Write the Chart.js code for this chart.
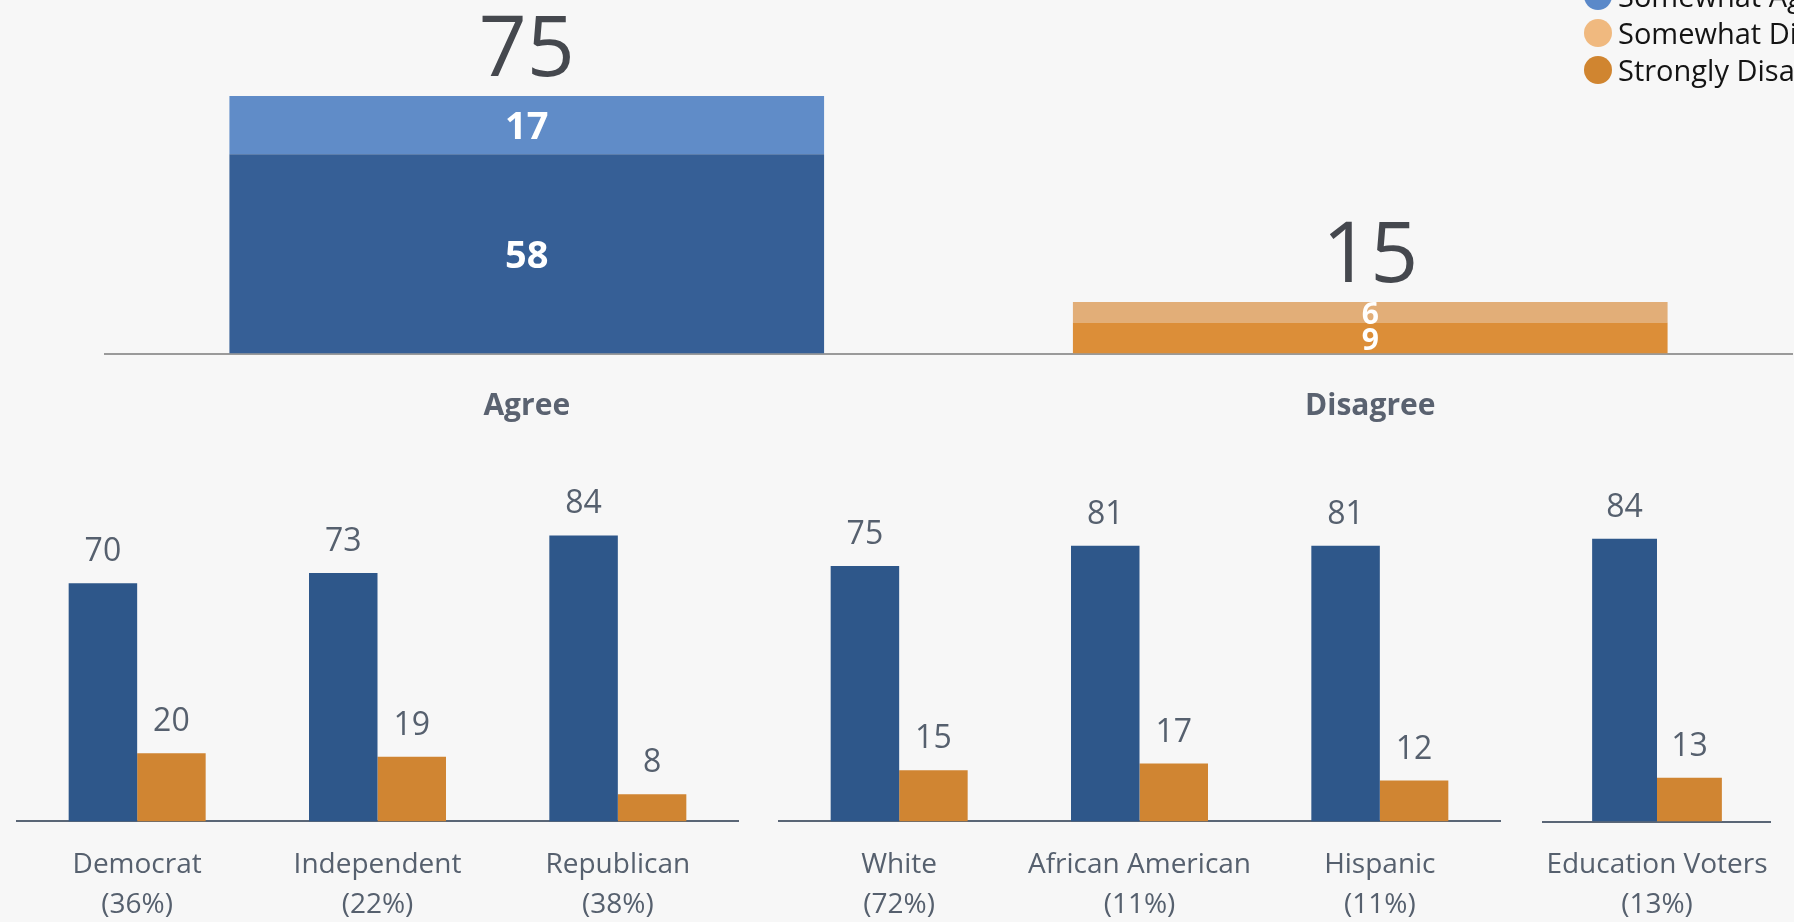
<!DOCTYPE html>
<html>
<head>
<meta charset="utf-8">
<script src="https://cdn.jsdelivr.net/npm/chart.js"></script>
<style>
  html, body { margin:0; padding:0; width:1794px; height:922px; overflow:hidden; background:#f7f7f7; font-family:'Open Sans', sans-serif; }
  .wrap { position:absolute; }
  #legend { position:absolute; left:1584px; top:-60px; white-space:nowrap; }
  .lg-row { height:37px; display:flex; align-items:center; }
  .lg-dot { width:28px; height:28px; border-radius:50%; margin-right:6px; flex:none; }
  .lg-text { font-size:29px; color:#141414; line-height:37px; }
</style>
</head>
<body>
<div class="wrap" style="left:0;top:0;width:1794px;height:481px;"><canvas id="topChart"></canvas></div>
<div class="wrap" style="left:0;top:440px;width:760px;height:513px;"><canvas id="partyChart"></canvas></div>
<div class="wrap" style="left:760px;top:440px;width:760px;height:513px;"><canvas id="raceChart"></canvas></div>
<div class="wrap" style="left:1520px;top:440px;width:274px;height:513px;"><canvas id="eduChart"></canvas></div>
<div id="legend"></div>
<script>
// ---------- data ----------
const topCategories = ['Agree', 'Disagree'];
const stronglyAgree = [58, null];
const somewhatAgree = [17, null];
const stronglyDisagree = [null, 9];
const somewhatDisagree = [null, 6];
const legendLabels = ['Strongly Agree', 'Somewhat Agree', 'Somewhat Disagree', 'Strongly Disagree'];

const partyLabels = [['Democrat', '(36%)'], ['Independent', '(22%)'], ['Republican', '(38%)']];
const partyAgree = [70, 73, 84];
const partyDisagree = [20, 19, 8];

const raceLabels = [['White', '(72%)'], ['African American', '(11%)'], ['Hispanic', '(11%)']];
const raceAgree = [75, 81, 81];
const raceDisagree = [15, 17, 12];

const eduLabels = [['Education Voters', '(13%)']];
const eduAgree = [84];
const eduDisagree = [13];

// ---------- styles ----------
const FONT = "'Open Sans', sans-serif";
Chart.defaults.font.family = FONT;
const C = {
  sa: '#365f96', swa: '#608cc8', swd: '#e2ae78', sd: '#dc8e38',
  agree: '#2e578a', disagree: '#d08532',
  text: '#56606e', total: '#45484e'
};
const legendColors = ['#365f96', '#5b89c9', '#f0b97f', '#d08530'];

// ---------- plugins ----------
const segmentLabels = {
  id: 'segmentLabels',
  afterDatasetsDraw(chart) {
    const ctx = chart.ctx;
    ctx.save();
    ctx.fillStyle = '#ffffff';
    ctx.textAlign = 'center';
    ctx.textBaseline = 'middle';
    chart.data.datasets.forEach((ds, i) => {
      const meta = chart.getDatasetMeta(i);
      meta.data.forEach((el, j) => {
        const v = ds.data[j];
        if (v == null) return;
        const size = j === 0 ? 38 : 30;
        ctx.font = 'bold ' + size + 'px ' + FONT;
        ctx.fillText(String(v), el.x, (el.y + el.base) / 2 + 3);
      });
    });
    ctx.restore();
  }
};
const totalLabels = {
  id: 'totalLabels',
  afterDatasetsDraw(chart) {
    const ctx = chart.ctx;
    const y = chart.scales.y;
    const x = chart.scales.x;
    ctx.save();
    ctx.fillStyle = C.total;
    ctx.textAlign = 'center';
    ctx.textBaseline = 'alphabetic';
    ctx.font = '84px ' + FONT;
    chart.data.labels.forEach((lab, j) => {
      let total = 0;
      chart.data.datasets.forEach(ds => { if (ds.data[j] != null) total += ds.data[j]; });
      ctx.fillText(String(total), x.getPixelForValue(j), y.getPixelForValue(total) - 20);
    });
    ctx.restore();
  }
};
const valueLabels = {
  id: 'valueLabels',
  afterDatasetsDraw(chart) {
    const ctx = chart.ctx;
    ctx.save();
    ctx.fillStyle = C.text;
    ctx.textAlign = 'center';
    ctx.textBaseline = 'alphabetic';
    ctx.font = '32px ' + FONT;
    chart.data.datasets.forEach((ds, i) => {
      chart.getDatasetMeta(i).data.forEach((el, j) => {
        ctx.fillText(String(ds.data[j]), el.x, el.y - 22);
      });
    });
    ctx.restore();
  }
};

// ---------- top chart ----------
new Chart(document.getElementById('topChart'), {
  type: 'bar',
  data: {
    labels: topCategories,
    datasets: [
      { label: legendLabels[0], data: stronglyAgree, backgroundColor: C.sa },
      { label: legendLabels[1], data: somewhatAgree, backgroundColor: C.swa },
      { label: legendLabels[3], data: stronglyDisagree, backgroundColor: C.sd },
      { label: legendLabels[2], data: somewhatDisagree, backgroundColor: C.swd }
    ]
  },
  options: {
    animation: false, responsive: true, maintainAspectRatio: false, devicePixelRatio: 1,
    layout: { padding: { top: 10, left: 105, right: 2, bottom: 21.5 } },
    datasets: { bar: { categoryPercentage: 0.705, barPercentage: 1, borderWidth: 0 } },
    plugins: { legend: { display: false }, tooltip: { enabled: false } },
    scales: {
      x: { stacked: true, grid: { display: false, drawTicks: false },
           border: { color: '#9a9a9a', width: 2 },
           ticks: { font: { size: 30, weight: 'bold', lineHeight: 1.2 }, color: '#5a6270', padding: 35 } },
      y: { stacked: true, display: false, min: 0, max: 100 }
    }
  },
  plugins: [segmentLabels, totalLabels]
});

// ---------- bottom charts ----------
function groupChart(id, labels, agree, disagree, padding) {
  return new Chart(document.getElementById(id), {
    type: 'bar',
    data: {
      labels: labels,
      datasets: [
        { label: 'Agree', data: agree, backgroundColor: C.agree },
        { label: 'Disagree', data: disagree, backgroundColor: C.disagree }
      ]
    },
    options: {
      animation: false, responsive: true, maintainAspectRatio: false, devicePixelRatio: 1,
      layout: { padding: padding },
      datasets: { bar: { categoryPercentage: 0.57, barPercentage: 1, borderWidth: 0 } },
      plugins: { legend: { display: false }, tooltip: { enabled: false } },
      scales: {
        x: { grid: { display: false, drawTicks: false },
             border: { color: '#5a6676', width: 2 },
             ticks: { font: { size: 28, lineHeight: 1.43 }, color: C.text, padding: 23.5, maxRotation: 0, autoSkip: false } },
        y: { display: false, min: 0, max: 100 }
      }
    },
    plugins: [valueLabels]
  });
}
groupChart('partyChart', partyLabels, partyAgree, partyDisagree, { top: 41, left: 17, right: 22, bottom: 4.5 });
groupChart('raceChart', raceLabels, raceAgree, raceDisagree, { top: 41, left: 19, right: 20, bottom: 4.5 });
groupChart('eduChart', eduLabels, eduAgree, eduDisagree, { top: 45, left: 18, right: 11, bottom: 4.3 });

// ---------- legend ----------
const lg = document.getElementById('legend');
legendLabels.forEach((name, i) => {
  const row = document.createElement('div');
  row.className = 'lg-row';
  const dot = document.createElement('span');
  dot.className = 'lg-dot';
  dot.style.background = legendColors[i];
  const t = document.createElement('span');
  t.className = 'lg-text';
  t.textContent = name;
  row.appendChild(dot); row.appendChild(t);
  lg.appendChild(row);
});
</script>
</body>
</html>
